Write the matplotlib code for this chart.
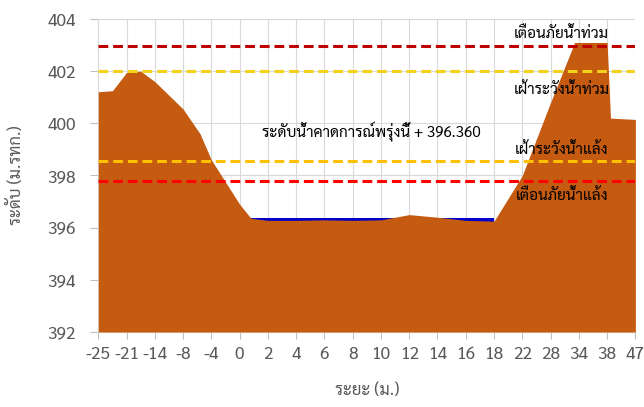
import matplotlib
matplotlib.use("Agg")
import matplotlib.pyplot as plt
import numpy as np

plt.rcParams['font.family'] = ['Sarabun', 'DejaVu Sans']

# category labels on the x axis (distance, m)
distance_labels = ["-25", "-21", "-14", "-8", "-4", "0", "2", "4", "6", "8",
                   "10", "12", "14", "16", "18", "22", "28", "34", "38", "47"]

# ground profile: position along the category axis, elevation (m MSL)
ground_pos = [0, 0.5, 1, 1.5, 2, 3, 3.6, 4, 5, 5.4, 6, 7, 8, 9, 10, 11, 12,
              13, 14, 15, 16, 16.85, 17, 18, 18.12, 19]
ground_elev = [401.21, 401.25, 401.95, 402.0, 401.6, 400.55, 399.6, 398.6,
               396.9, 396.36, 396.28, 396.28, 396.3, 396.28, 396.3, 396.5,
               396.4, 396.28, 396.25, 398.0, 400.8, 403.1, 403.1, 403.1,
               400.2, 400.15]

# forecast water level for tomorrow
water_pos = [5, 14]
water_level = 396.36

# threshold lines
flood_warning = 402.95
flood_watch = 402.0
drought_watch = 398.55
drought_warning = 397.78

fig = plt.figure(figsize=(6.44, 4.07), dpi=100)
ax = fig.add_axes([0.1526, 0.1843, 0.834, 0.769])

ax.fill_between(water_pos, 392, water_level, color="#0000c8", zorder=2, linewidth=0)
ax.fill_between(ground_pos, 392, ground_elev, color="#c55a11", zorder=3, linewidth=0)

dash = (0, (3.2, 1.6))
ax.axhline(flood_warning, color="#c00000", lw=2.2, ls=dash, zorder=4)
ax.axhline(flood_watch, color="#f2d21b", lw=2.2, ls=dash, zorder=4)
ax.axhline(drought_watch, color="#ffc000", lw=2.2, ls=dash, zorder=4)
ax.axhline(drought_warning, color="#ff0000", lw=2.2, ls=dash, zorder=4)

ax.text(16.38, 403.45, "เตือนภัยน้ำท่วม", ha="center", va="center", fontsize=11, zorder=5)
ax.text(16.4, 401.3, "เฝ้าระวังน้ำท่วม", ha="center", va="center", fontsize=11, zorder=5)
ax.text(16.4, 398.98, "เฝ้าระวังน้ำแล้ง", ha="center", va="center", fontsize=11, zorder=5)
ax.text(16.4, 397.25, "เตือนภัยน้ำแล้ง", ha="center", va="center", fontsize=11, zorder=5)
ax.text(9.65, 399.67, "ระดับน้ำคาดการณ์พรุ่งนี้ + 396.360", ha="center", va="center",
        fontsize=11, zorder=5)

ax.set_xlim(0, 19)
ax.set_ylim(392, 404)
ax.set_xticks(np.arange(len(distance_labels)))
ax.set_xticklabels(distance_labels)
ax.set_yticks(np.arange(392, 405, 2))

ax.grid(True, color="#d9d9d9", lw=0.8, zorder=0)
ax.set_axisbelow(True)
for s in ["top", "right"]:
    ax.spines[s].set_visible(False)
for s in ["left", "bottom"]:
    ax.spines[s].set_color("#d9d9d9")
ax.tick_params(axis="both", colors="#bfbfbf", labelcolor="#595959", labelsize=12.5)
ax.tick_params(axis="x", length=5, pad=5)
ax.tick_params(axis="y", length=6, pad=10)

ax.set_xlabel("ระยะ (ม.)", fontsize=12, color="#595959")
ax.set_ylabel("ระดับ (ม.รทก.)", fontsize=12, color="#595959")
ax.xaxis.set_label_coords(0.5, -0.16)
ax.yaxis.set_label_coords(-0.137, 0.5)

fig.savefig("out.png", dpi=100)
